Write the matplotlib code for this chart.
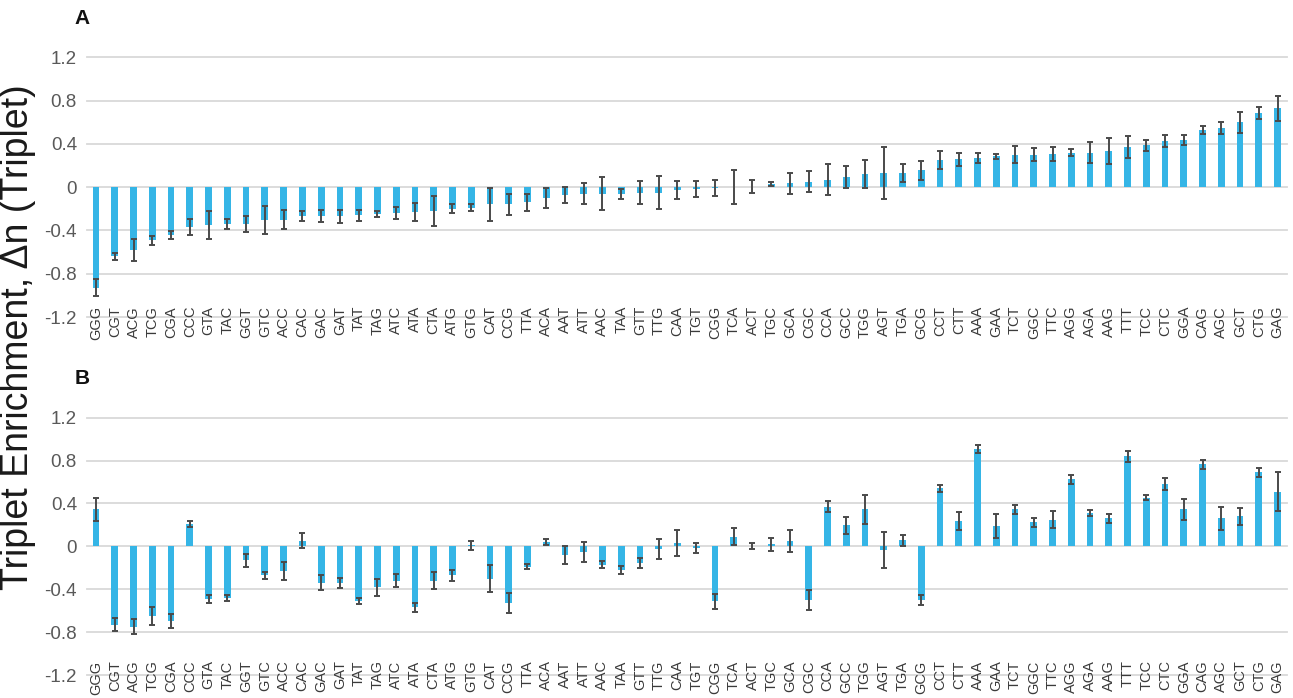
import matplotlib
matplotlib.use("Agg")
import matplotlib.pyplot as plt
import numpy as np

plt.rcParams['font.family'] = ['Liberation Sans', 'DejaVu Sans']

codons = ["GGG", "CGT", "ACG", "TCG", "CGA", "CCC", "GTA", "TAC", "GGT", "GTC",
          "ACC", "CAC", "GAC", "GAT", "TAT", "TAG", "ATC", "ATA", "CTA", "ATG",
          "GTG", "CAT", "CCG", "TTA", "ACA", "AAT", "ATT", "AAC", "TAA", "GTT",
          "TTG", "CAA", "TGT", "CGG", "TCA", "ACT", "TGC", "GCA", "CGC", "CCA",
          "GCC", "TGG", "AGT", "TGA", "GCG", "CCT", "CTT", "AAA", "GAA", "TCT",
          "GGC", "TTC", "AGG", "AGA", "AAG", "TTT", "TCC", "CTC", "GGA", "CAG",
          "AGC", "GCT", "CTG", "GAG"]

# Panel A values and error
a_values = [-0.93, -0.64, -0.58, -0.49, -0.44, -0.37, -0.35, -0.34, -0.34, -0.30,
            -0.30, -0.27, -0.27, -0.27, -0.26, -0.25, -0.24, -0.23, -0.22, -0.20,
            -0.19, -0.16, -0.16, -0.14, -0.10, -0.07, -0.06, -0.06, -0.06, -0.05,
            -0.05, -0.025, -0.02, -0.01, 0.00, 0.005, 0.03, 0.035, 0.05, 0.07,
            0.095, 0.12, 0.13, 0.13, 0.155, 0.25, 0.26, 0.27, 0.285, 0.30,
            0.30, 0.31, 0.32, 0.32, 0.33, 0.37, 0.385, 0.425, 0.435, 0.53,
            0.545, 0.60, 0.685, 0.73]
a_errors = [0.08, 0.03, 0.105, 0.04, 0.035, 0.075, 0.13, 0.05, 0.075, 0.13,
            0.09, 0.045, 0.055, 0.06, 0.05, 0.03, 0.055, 0.08, 0.14, 0.04,
            0.03, 0.15, 0.10, 0.08, 0.09, 0.075, 0.10, 0.15, 0.045, 0.11,
            0.15, 0.085, 0.075, 0.075, 0.16, 0.06, 0.02, 0.095, 0.095, 0.14,
            0.105, 0.13, 0.24, 0.085, 0.09, 0.08, 0.06, 0.045, 0.025, 0.08,
            0.06, 0.065, 0.03, 0.095, 0.12, 0.10, 0.05, 0.055, 0.045, 0.035,
            0.055, 0.095, 0.055, 0.115]

# Panel B values and error
b_values = [0.345, -0.73, -0.75, -0.65, -0.70, 0.21, -0.49, -0.48, -0.13, -0.27,
            -0.23, 0.05, -0.34, -0.34, -0.51, -0.38, -0.32, -0.57, -0.32, -0.27,
            0.01, -0.30, -0.53, -0.19, 0.04, -0.08, -0.05, -0.17, -0.22, -0.155,
            -0.025, 0.03, -0.015, -0.51, 0.09, 0.005, 0.02, 0.05, -0.50, 0.37,
            0.195, 0.345, -0.035, 0.055, -0.50, 0.54, 0.235, 0.91, 0.19, 0.345,
            0.225, 0.25, 0.625, 0.31, 0.26, 0.84, 0.455, 0.58, 0.345, 0.765,
            0.26, 0.28, 0.69, 0.51]
b_errors = [0.11, 0.06, 0.07, 0.08, 0.065, 0.03, 0.035, 0.03, 0.06, 0.03,
            0.08, 0.07, 0.07, 0.045, 0.025, 0.08, 0.06, 0.04, 0.08, 0.05,
            0.04, 0.13, 0.095, 0.025, 0.03, 0.085, 0.095, 0.03, 0.04, 0.05,
            0.09, 0.12, 0.05, 0.07, 0.08, 0.03, 0.06, 0.10, 0.09, 0.05,
            0.08, 0.135, 0.17, 0.05, 0.05, 0.035, 0.085, 0.04, 0.11, 0.04,
            0.04, 0.08, 0.045, 0.025, 0.04, 0.05, 0.02, 0.055, 0.095, 0.04,
            0.11, 0.08, 0.045, 0.18]

yticks = [-1.2, -0.8, -0.4, 0, 0.4, 0.8, 1.2]
ytick_labels = ["-1.2", "-0.8", "-0.4", "0", "0.4", "0.8", "1.2"]

BAR = '#35B5E6'
ERR = '#4A4A4A'
GRID = '#D9D9D9'

W, H = 1293, 698
fig = plt.figure(figsize=(W / 100, H / 100), dpi=100)

def px_axes(left, top, right, bottom):
    return fig.add_axes([left / W, 1 - bottom / H, (right - left) / W, (bottom - top) / H])

axA = px_axes(86.7, 57.3, 1287, 317)
axB = px_axes(86.7, 417.7, 1287, 675)

def draw(ax, vals, errs, pad):
    x = np.arange(len(codons))
    ax.bar(x, vals, width=0.36, color=BAR, zorder=2)
    ax.errorbar(x, vals, yerr=errs, fmt='none', ecolor=ERR, elinewidth=1.4,
                capsize=2.4, capthick=1.4, zorder=3)
    ax.set_xlim(-0.5, len(codons) - 0.5)
    ax.set_ylim(-1.2, 1.2)
    ax.set_yticks(yticks)
    ax.set_yticklabels(ytick_labels, fontsize=13.5, color='#595959')
    ax.set_xticks(x)
    ax.set_xticklabels(codons, rotation=90, fontsize=10.5, color='#3a3a3a')
    for s in ax.spines.values():
        s.set_visible(False)
    ax.tick_params(axis='y', length=0, pad=7)
    ax.tick_params(axis='x', length=0, pad=pad)
    for yv in yticks:
        ax.axhline(yv, color=GRID, lw=1.3, zorder=1, clip_on=False)
    ax.set_facecolor('none')

draw(axA, a_values, a_errors, -8)
draw(axB, b_values, b_errors, -10.5)

fig.text(82 / W, 1 - 19 / H, "A", fontsize=15, fontweight='bold', ha='center', va='center', color='#111111')
fig.text(82 / W, 1 - 378 / H, "B", fontsize=15, fontweight='bold', ha='center', va='center', color='#111111')
fig.text(18 / W, 1 - 337 / H, "Triplet Enrichment, \u0394n (Triplet)", rotation=90,
         fontsize=27, ha='center', va='center', color='#1a1a1a')

fig.savefig("out.png", dpi=100)
